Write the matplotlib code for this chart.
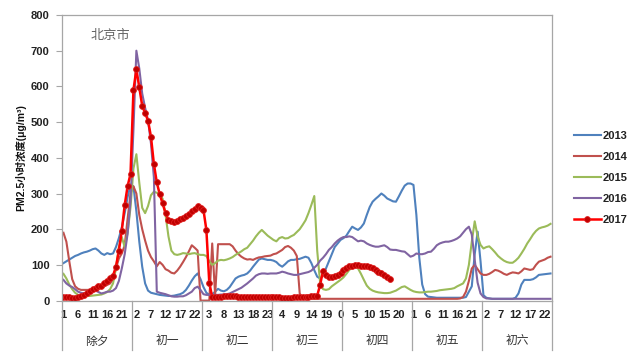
# -*- coding: utf-8 -*-
"""
北京市 除夕至初六 PM2.5 小时浓度 (2013-2017)
"""

import numpy as np
import matplotlib
matplotlib.use("Agg")
import matplotlib.pyplot as plt
from matplotlib.lines import Line2D

plt.rcParams.update({
    "font.family": ["Liberation Sans", "Noto Sans CJK SC", "DejaVu Sans"],
    "axes.unicode_minus": False,
})

# ---- data (one value per hour) ----
DAYS = ["除夕", "初一", "初二", "初三", "初四", "初五", "初六"]
HOURS_PER_DAY = 24

PM_2013 = [
    105, 110, 115, 120, 125, 128, 132, 135, 137, 140, 144, 146, 140, 132, 128, 133, 130, 132, 150, 175, 205, 245, 290, 325,
    320, 250, 165, 95, 48, 28, 22, 20, 18, 16, 15, 14, 13, 13, 14, 16, 18, 22, 30, 42, 56, 68, 76, 60,
    38, 22, 16, 18, 25, 33, 28, 26, 30, 38, 50, 62, 67, 70, 72, 76, 84, 95, 105, 115, 118, 116, 114, 114,
    112, 108, 100, 95, 102, 110, 114, 114, 116, 117, 120, 123, 120, 105, 85, 67, 62, 70, 90, 110, 130, 150, 160, 170,
    175, 182, 195, 207, 202, 198, 205, 216, 240, 262, 277, 285, 292, 300, 294, 286, 282, 278, 277, 292, 308, 322, 328, 328,
    324, 240, 120, 45, 18, 11, 10, 9, 8, 8, 8, 8, 8, 8, 8, 8, 8, 8, 10, 25, 40, 130, 193, 110,
    15, 8, 6, 5, 5, 5, 5, 5, 5, 5, 5, 8, 20, 45, 58, 58, 58, 60, 65, 72, 73, 74, 75, 76,
]
PM_2014 = [
    190, 165, 110, 60, 40, 33, 30, 30, 30, 30, 31, 32, 34, 36, 40, 44, 48, 60, 90, 118, 132, 155, 230, 300,
    320, 300, 240, 200, 168, 140, 122, 110, 96, 108, 100, 88, 84, 78, 76, 84, 95, 108, 122, 138, 155, 148, 140, 0,
    0, 0, 0, 160, 15, 158, 158, 158, 158, 158, 152, 140, 130, 123, 118, 115, 116, 114, 118, 121, 122, 124, 125, 126,
    130, 132, 137, 142, 150, 153, 148, 140, 125, 20, 6, 5, 5, 5, 5, 5, 5, 5, 5, 5, 5, 5, 5, 5,
    5, 5, 5, 5, 5, 5, 5, 5, 5, 5, 5, 5, 5, 5, 5, 5, 5, 5, 5, 5, 5, 5, 5, 5,
    5, 5, 5, 5, 5, 5, 5, 5, 5, 5, 5, 5, 5, 5, 5, 5, 6, 10, 25, 55, 90, 100, 88, 76,
    72, 72, 75, 80, 86, 84, 80, 75, 72, 76, 79, 78, 76, 82, 90, 88, 86, 88, 100, 109, 112, 115, 120, 123,
]
PM_2015 = [
    75, 62, 45, 32, 22, 16, 14, 13, 13, 13, 14, 15, 16, 17, 20, 24, 32, 48, 90, 150, 178, 150, 190, 262,
    370, 410, 330, 260, 245, 265, 295, 305, 302, 300, 285, 240, 180, 140, 130, 128, 130, 133, 132, 130, 132, 133, 130, 128,
    128, 125, 110, 100, 105, 112, 114, 113, 115, 118, 122, 128, 133, 138, 144, 148, 158, 168, 180, 190, 198, 190, 182, 176,
    170, 166, 175, 178, 174, 175, 180, 184, 192, 200, 212, 225, 245, 268, 293, 140, 50, 32, 30, 32, 40, 46, 52, 58,
    65, 75, 86, 92, 95, 90, 75, 58, 42, 33, 28, 25, 23, 22, 21, 21, 22, 25, 28, 33, 38, 40, 35, 30,
    26, 24, 23, 23, 24, 25, 25, 26, 27, 29, 30, 31, 32, 33, 35, 40, 44, 48, 62, 100, 165, 222, 180, 156,
    146, 150, 152, 144, 135, 125, 118, 112, 108, 106, 106, 112, 120, 132, 145, 160, 172, 185, 195, 202, 205, 207, 210, 215,
]
PM_2016 = [
    58, 48, 42, 38, 32, 25, 22, 20, 22, 26, 30, 28, 24, 20, 22, 25, 25, 28, 35, 55, 90, 130, 188, 280,
    480, 700, 650, 580, 540, 505, 440, 345, 25, 22, 20, 18, 15, 12, 11, 11, 12, 12, 15, 20, 25, 35, 39, 30,
    18, 16, 16, 16, 16, 16, 17, 17, 18, 20, 24, 28, 32, 36, 42, 48, 55, 62, 70, 74, 76, 76, 75, 76,
    76, 76, 78, 81, 79, 76, 74, 72, 72, 74, 76, 78, 80, 84, 92, 100, 112, 120, 130, 142, 150, 160, 168, 174,
    178, 178, 180, 178, 172, 166, 168, 166, 160, 156, 153, 151, 151, 153, 155, 150, 143, 142, 142, 140, 138, 137, 130, 123,
    126, 132, 130, 130, 132, 136, 137, 145, 155, 160, 163, 165, 165, 167, 170, 174, 180, 190, 200, 207, 185, 114, 50, 20,
    10, 6, 6, 5, 5, 5, 5, 5, 5, 5, 5, 5, 5, 5, 5, 5, 5, 5, 5, 5, 5, 5, 5, 5,
]
PM_2017 = [
    10, 9, 9, 8, 8, 9, 12, 16, 22, 28, 33, 36, 40, 42, 48, 55, 62, 70, 95, 140, 196, 268, 321, 355,
    590, 648, 597, 546, 525, 504, 459, 383, 331, 298, 272, 245, 226, 222, 220, 224, 228, 232, 238, 243, 250, 256, 266, 260,
    254, 198, 50, 10, 10, 10, 11, 12, 13, 14, 13, 12, 11, 10, 10, 10, 9, 9, 9, 9, 9, 10, 10, 9,
    9, 9, 9, 8, 8, 8, 8, 9, 9, 9, 10, 10, 11, 12, 14, 14, 44, 84, 72, 67, 67, 68, 71, 78,
    86, 92, 96, 98, 99, 99, 98, 98, 97, 94, 90, 86, 80, 76, 72, 66, 60,
]

SERIES = [
    ("2013", PM_2013, "#4F81BD"),
    ("2014", PM_2014, "#C0504D"),
    ("2015", PM_2015, "#9BBB59"),
    ("2016", PM_2016, "#8064A2"),
]
COLOR_2017 = "#FF0000"
MARKER_2017 = "#C00000"

W, H = 640, 354


def px_x(x):
    return x / W


def px_y(y):
    return 1 - y / H


def draw_category_axis(ax, n_points):
    # hour labels every 5 points, label = index mod 24
    ticks = np.arange(1, n_points + 1, 5)
    ax.set_xticks(ticks)
    ax.set_xticklabels([str(t % 24) for t in ticks])
    ax.tick_params(axis="x", length=0, pad=7, labelsize=8, labelcolor="#222222")
    for lab in ax.get_xticklabels():
        lab.set_fontweight("bold")

    # day separators below the axis, like Excel's multi-level category axis
    trans = ax.get_xaxis_transform()
    bounds = np.arange(0, len(DAYS) + 1) * HOURS_PER_DAY + 0.5
    for b in bounds:
        ax.plot([b, b], [0, -0.173], transform=trans, color="#A6A6A6",
                linewidth=0.9, clip_on=False)
    for k, day in enumerate(DAYS):
        xc = k * HOURS_PER_DAY + HOURS_PER_DAY / 2 + 0.5
        ax.text(xc, -0.142, day, transform=trans, ha="center", va="center",
                fontsize=8.5, color="#333333", family=["Noto Sans CJK SC", "DejaVu Sans"])


def main():
    fig = plt.figure(figsize=(W / 100, H / 100), dpi=100)
    ax = fig.add_axes([px_x(62), px_y(300.6), px_x(490), (300.6 - 15) / H])

    n = len(PM_2013)
    x = np.arange(1, n + 1)
    handles = []
    for name, vals, col in SERIES:
        ln, = ax.plot(x, vals, color=col, linewidth=1.5, label=name)
        handles.append(ln)

    x17 = np.arange(1, len(PM_2017) + 1)
    ln17, = ax.plot(x17, PM_2017, color=COLOR_2017, linewidth=1.8, marker="o",
                    markersize=4.2, markerfacecolor=MARKER_2017,
                    markeredgecolor="#E02020", markeredgewidth=0.6, label="2017")
    handles.append(ln17)

    ax.set_xlim(0.5, n + 0.5)
    ax.set_ylim(0, 800)
    ax.set_yticks(np.arange(0, 801, 100))
    ax.tick_params(axis="y", length=4, width=0.8, color="#A6A6A6", pad=5,
                   labelsize=8, labelcolor="#222222")
    for lab in ax.get_yticklabels():
        lab.set_fontweight("bold")
    for sp in ax.spines.values():
        sp.set_color("#A6A6A6")
        sp.set_linewidth(0.9)

    draw_category_axis(ax, n)

    fig.text(px_x(21), px_y(158), "PM2.5小时浓度(μg/m³)", rotation=90,
             ha="center", va="center", fontsize=7.5, fontweight="bold", color="#111111")
    ax.text(px_x(110), px_y(35), "北京市", transform=fig.transFigure,
            ha="center", va="center", fontsize=9.5, color="#666666",
            family=["Noto Sans CJK SC", "DejaVu Sans"])

    leg = fig.legend(handles=handles, loc="center left",
                     bbox_to_anchor=(px_x(574), px_y(178)),
                     frameon=False, fontsize=8, handlelength=2.4,
                     handletextpad=0.2, labelspacing=1.0,
                     borderpad=0, borderaxespad=0)
    for t in leg.get_texts():
        t.set_fontweight("bold")
        t.set_color("#222222")

    fig.savefig("out.png", dpi=100)
    plt.close(fig)


if __name__ == "__main__":
    main()
